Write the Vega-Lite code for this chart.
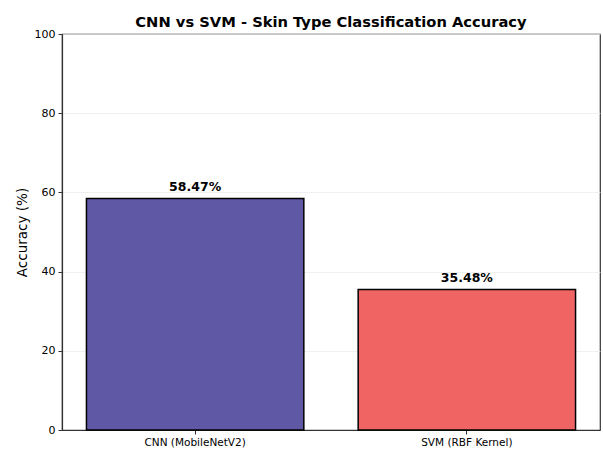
{
  "$schema": "https://vega.github.io/schema/vega-lite/v6.json",
  "autosize": "none",
  "width": 538,
  "height": 396,
  "padding": {"left": 62, "top": 34, "right": 3, "bottom": 24},
  "background": "white",
  "title": {
    "text": "CNN vs SVM - Skin Type Classification Accuracy",
    "font": "DejaVu Sans",
    "fontSize": 14.7,
    "fontWeight": "bold",
    "color": "black",
    "anchor": "middle",
    "offset": -2
  },
  "config": {
    "font": "DejaVu Sans",
    "view": {"stroke": "#333333", "strokeWidth": 1.2}
  },
  "data": {
    "values": [
      {"model": "CNN (MobileNetV2)", "accuracy": 58.47, "label": "58.47%"},
      {"model": "SVM (RBF Kernel)", "accuracy": 35.48, "label": "35.48%"}
    ]
  },
  "encoding": {
    "x": {
      "field": "model",
      "type": "nominal",
      "sort": null,
      "scale": {"paddingInner": 0.2, "paddingOuter": 0.09},
      "axis": {
        "title": null,
        "labelAngle": 0,
        "labelFontSize": 10.5,
        "labelColor": "black",
        "labelPadding": 3,
        "tickColor": "#333333",
        "tickSize": 4,
        "domainColor": "#333333",
        "domainWidth": 1.2
      }
    },
    "y": {
      "field": "accuracy",
      "type": "quantitative",
      "scale": {"domain": [0, 100], "nice": false},
      "axis": {
        "title": "Accuracy (%)",
        "titleFontSize": 13.5,
        "titleFontWeight": "normal",
        "titleColor": "black",
        "titlePadding": 5,
        "values": [0, 20, 40, 60, 80, 100],
        "labelFontSize": 11,
        "labelColor": "black",
        "labelPadding": 3,
        "tickColor": "#333333",
        "tickSize": 4,
        "domainColor": "#333333",
        "domainWidth": 1.2,
        "grid": true,
        "gridColor": "#ececec",
        "gridWidth": 0.8
      }
    }
  },
  "layer": [
    {
      "mark": {"type": "bar", "stroke": "black", "strokeWidth": 1.5},
      "encoding": {
        "color": {
          "field": "model",
          "type": "nominal",
          "scale": {"domain": ["CNN (MobileNetV2)", "SVM (RBF Kernel)"], "range": ["#5f58a4", "#f06464"]},
          "legend": null
        }
      }
    },
    {
      "mark": {"type": "text", "fontWeight": "bold", "fontSize": 12.5, "dy": -11, "color": "black"},
      "encoding": {"text": {"field": "label"}}
    }
  ]
}
